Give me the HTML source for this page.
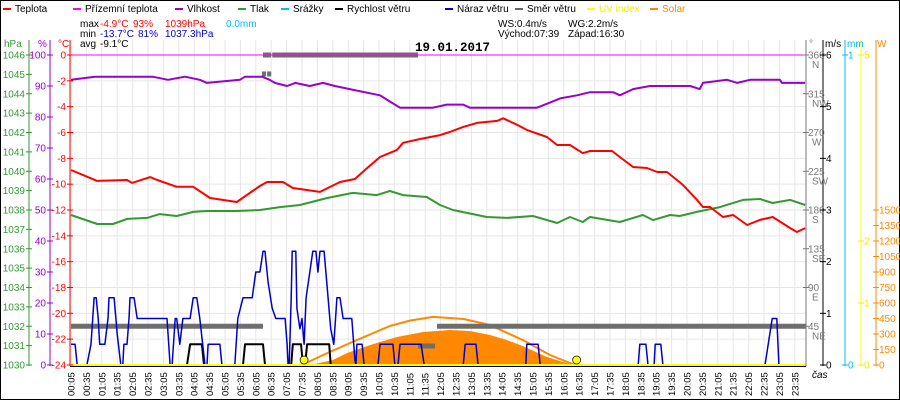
<!DOCTYPE html>
<html><head><meta charset="utf-8">
<style>
html,body{margin:0;padding:0;background:#fff;}
svg{display:block;font-family:"Liberation Sans",sans-serif;font-size:10px;}
</style></head>
<body>
<svg id="chart" width="900" height="400" viewBox="0 0 900 400" xmlns="http://www.w3.org/2000/svg">
<rect x="0.5" y="0.5" width="899" height="399" fill="#fff" stroke="#000"/>
<g id="grid"></g>
<g id="series"></g>
<g id="axes"></g>
<g id="legend"></g>
<g font-size="10">
<text x="80" y="27">max</text><text x="100" y="27" fill="#f00">-4.9°C</text><text x="133" y="27" fill="#f00">93%</text><text x="165" y="27" fill="#f00">1039hPa</text><text x="226" y="27" fill="#0bf">0.0mm</text>
<text x="80" y="37">min</text><text x="100" y="37" fill="#00c">-13.7°C</text><text x="138" y="37" fill="#00c">81%</text><text x="165" y="37" fill="#00c">1037.3hPa</text>
<text x="80" y="47">avg</text><text x="100" y="47">-9.1°C</text>
<text x="498" y="27">WS:0.4m/s</text><text x="568" y="27">WG:2.2m/s</text>
<text x="498" y="37">Východ:07:39</text><text x="568" y="37">Západ:16:30</text>
</g>
<text x="415" y="51" font-family="Liberation Mono, monospace" font-weight="bold" font-size="12.5">19.01.2017</text>
</svg>
<script>
// ---- data (time in minutes of day) ----
const tempTimes=[5,56,114,124,159,173,211,243,276,328,373,387,418,437,490,529,558,582,607,640,652,685,724,743,769,796,835,847,874,893,932,952,977,1002,1016,1059,1074,1100,1127,1147,1166,1197,1224,1236,1250,1275,1295,1322,1347,1372,1406,1419,1435];
const tempValues=[-8.9,-9.75,-9.68,-9.9,-9.45,-9.68,-10.2,-10.2,-11.07,-11.38,-10.14,-9.83,-9.83,-10.3,-10.6,-9.83,-9.6,-8.75,-7.9,-7.35,-6.8,-6.5,-6.2,-5.96,-5.57,-5.26,-5.1,-4.9,-5.4,-5.8,-6.35,-6.97,-6.97,-7.6,-7.43,-7.43,-7.9,-8.67,-8.75,-9.06,-9.06,-10.06,-11.2,-11.77,-11.77,-12.54,-12.39,-13.16,-12.77,-12.54,-13.4,-13.7,-13.4];
const humTimes=[5,52,164,194,227,256,270,334,344,377,392,402,426,442,470,496,519,548,607,626,646,710,737,769,782,913,958,991,1016,1061,1074,1100,1133,1211,1230,1236,1283,1303,1328,1386,1390,1435];
const humValues=[92,93,93,92,93,92,91,92,93,93,92,91,90,91,90,91,90,89,87,85,83,83,84,84,83,83,86,87,88,88,87,89,90,90,89,91,92,91,92,92,91,91];
const presTimes=[5,56,87,114,153,178,211,243,270,328,373,412,451,504,554,601,626,652,698,724,749,815,854,905,952,977,1002,1016,1074,1119,1139,1172,1191,1224,1269,1314,1347,1372,1406,1435];
const presValues=[1037.74,1037.28,1037.28,1037.54,1037.59,1037.79,1037.69,1037.9,1037.95,1037.95,1038.0,1038.15,1038.26,1038.62,1038.88,1038.77,1038.98,1038.77,1038.67,1038.26,1038.0,1037.64,1037.59,1037.69,1037.33,1037.64,1037.38,1037.64,1037.38,1037.74,1037.48,1037.74,1037.69,1037.9,1038.15,1038.52,1038.57,1038.36,1038.52,1038.26];
const gustTimes=[5,13,17,36,44,50,54,58,61,71,77,79,89,95,102,106,108,114,118,120,128,134,192,198,202,208,211,217,223,237,243,250,256,266,270,272,295,299,324,330,340,358,365,373,379,383,389,397,404,422,426,428,430,434,436,443,445,451,455,459,463,476,482,486,490,498,504,511,517,521,523,529,535,552,558,560,562,572,576,603,607,632,636,642,646,687,693,769,773,794,798,891,893,915,919,1110,1113,1125,1129,1141,1143,1154,1158,1357,1371,1380,1384,1437];
const gustValues=[0.4,0.4,0,0,0.4,1.3,1.3,0.9,0.4,0.4,0.9,1.3,1.3,0.6,0,0,0.4,0.4,0.9,1.3,1.3,0.9,0.9,0,0,0.9,0.9,0.4,0.9,0.9,1.3,1.3,0.9,0,0,0.4,0.4,0,0,0.9,1.3,1.3,1.8,1.8,2.2,2.2,1.6,1.1,0.9,0.9,0.4,0,0,1.3,2.2,2.2,1.1,0.7,0.9,0.4,1.3,2.2,2.2,1.8,2.2,2.2,1.5,0.7,0.4,1.0,1.3,1.3,0.9,0.9,0.1,0,0.4,0.4,0,0,0.4,0.4,0,0,0.4,0.4,0,0,0.4,0.4,0,0,0.4,0.4,0,0,0.4,0.4,0,0,0.4,0.4,0,0,0.9,0.9,0,0];
const windTimes=[5,231,237,260,264,340,344,379,383,434,437,453,457,461,465,508,511,1437];
const windValues=[0,0,0.4,0.4,0,0,0.4,0.4,0,0,0.4,0.4,0,0,0.4,0.4,0,0];
const solarTimes=[471,515,543,582,607,640,691,743,782,821,854,885,932,963,987];
const solarValues=[0,48,116,184,223,271,319,339,329,290,242,184,77,29,0];
const theoTimes=[455,496,562,626,665,710,770,821,885,938,987];
const theoValues=[0,97,242,377,430,465,445,387,242,97,0];
const dirStart=[5,377,387,379,397,681,718];
const dirEnd=[379,385,395,395,681,714,1437];
const dirValues=[45,338,338,360,360,22,45];
const sunTimes=[459,990];
const hpaTicks=[1046,1045,1044,1043,1042,1041,1040,1039,1038,1037,1036,1035,1034,1033,1032,1031,1030];
const humTicks=[100,90,80,70,60,50,40,30,20,10,0];
const tempTicks=[0,-2,-4,-6,-8,-10,-12,-14,-16,-18,-20,-22,-24];
const dirTicks=[360,315,270,225,180,135,90,45];
const dirNames=['N','NW','W','SW','S','SE','E','NE'];
const msTicks=[6,5,4,3,2,1,0];
const uvTicks=[5,2,1,0];
const wTicks=[1500,1350,1200,1050,900,750,600,450,300,150,0];
const legendNames=['Teplota','Přízemní teplota','Vlhkost','Tlak','Srážky','Rychlost větru','Náraz větru','Směr větru','UV index','Solar'];
const legendColors=['#f00','#f0f','#90c','#393','#0bf','#000','#00c','#666','#ff0','#f80'];

// ---- scales ----
const X0=71,PX=15.4/30,YT=55,YB=365;
const xT=m=>X0+(m-5)*PX;
const yTemp=t=>YT-t*(YB-YT)/24;
const yHum=h=>YB-h*(YB-YT)/100;
const yPres=p=>YT+(1046-p)*(YB-YT)/16;
const yMs=v=>YB-v*(YB-YT)/6;
const yDir=d=>YB-d*(YB-YT)/360;
const ySol=w=>YB-w*155/1500;
const yUV=u=>YB-u*62;
const NS='http://www.w3.org/2000/svg';
function mk(tag,attrs,parent,txt){const e=document.createElementNS(NS,tag);for(const k in attrs)e.setAttribute(k,attrs[k]);if(txt!==undefined)e.textContent=txt;parent.appendChild(e);return e;}
const grid=document.getElementById('grid'),ser=document.getElementById('series'),axes=document.getElementById('axes'),leg=document.getElementById('legend');

// grid
for(let i=0;i<48;i++){const m=5+i*30,x=xT(m);
 const g=mk('line',{x1:x,y1:YT-15,x2:x,y2:YB,stroke:'#e6e6e6','stroke-width':1},grid);
 
 
 const hh=String(Math.floor(m/60)).padStart(2,'0'),mm=String(m%60).padStart(2,'0');
 const t=mk('text',{transform:`translate(${x+3.5},396) rotate(-90)`,'font-size':9.5},axes,hh+':'+mm);
 
 
}
tempTicks.forEach(v=>{const y=yTemp(v);
 const g=mk('line',{x1:70,y1:y,x2:806,y2:y,stroke:'#e6e6e6'},grid);
 
 
});

function poly(ts,vs,yf,color,w,name){const pts=ts.map((t,i)=>xT(t).toFixed(1)+','+yf(vs[i]).toFixed(1)).join(' ');
 const p=mk('polyline',{points:pts,fill:'none',stroke:color,'stroke-width':w,'stroke-linejoin':'round'},ser);
 
 
 return p;}

// solar fill
{const pts=solarTimes.map((t,i)=>xT(t).toFixed(1)+','+ySol(solarValues[i]).toFixed(1));
 const p=mk('polygon',{points:pts.join(' ')+' '+xT(solarTimes[solarTimes.length-1])+','+YB+' '+xT(solarTimes[0])+','+YB,fill:'#f80'},ser);
 
 }
poly(theoTimes,theoValues,ySol,'#f80',2,'solar-theoretical-line');
// wind direction
dirValues.forEach((d,i)=>{const l=mk('line',{x1:xT(dirStart[i]),y1:yDir(d),x2:xT(dirEnd[i]),y2:yDir(d),stroke:'#6e6e6e','stroke-width':5},ser);
 
 });
// apparent temp line at 0
{const l=mk('line',{x1:70,y1:yTemp(0),x2:806,y2:yTemp(0),stroke:'#f0f','stroke-width':1},ser);
 
 }
poly(humTimes,humValues,yHum,'#90c',2,'humidity-line');
poly(presTimes,presValues,yPres,'#393',2,'pressure-line');
poly(tempTimes,tempValues,yTemp,'#f00',2,'temperature-line');
poly(windTimes,windValues,yMs,'#000',2,'wind-speed-line');
poly(gustTimes,gustValues,yMs,'#00c',1.5,'wind-gust-line');
{const l=mk('line',{x1:70,y1:YB,x2:806,y2:YB,stroke:'#ff0','stroke-width':2},ser);
 
 
 const b=mk('line',{x1:70,y1:YB+1.5,x2:806,y2:YB+1.5,stroke:'#000','stroke-width':1},ser);
 
 }
sunTimes.forEach(t=>{const c=mk('circle',{cx:xT(t),cy:YB-5,r:4,fill:'#ff0',stroke:'#000','stroke-width':0.7},ser);
 
 });

// axes
function vaxis(x,color,name){const l=mk('line',{x1:x,y1:40,x2:x,y2:YB+1,stroke:color,'stroke-width':1},axes);
 
 }
function tick(x,y,color,label,anchor,tx){mk('line',{x1:x-3,y1:y,x2:x+3,y2:y,stroke:color},axes);
 const t=mk('text',{x:tx,y:y+3.5,fill:color,'text-anchor':anchor},axes,label);
 
 }
vaxis(29,'#393','pressure-axis');vaxis(50,'#90c','humidity-axis');vaxis(70,'#f00','temperature-axis');
vaxis(806,'#777','direction-axis');vaxis(823,'#000','wind-axis');vaxis(845,'#0bf','rain-axis');vaxis(861,'#ff0','uv-axis');vaxis(876,'#f80','solar-axis');
hpaTicks.forEach(v=>tick(29,yPres(v),'#393',v,'end',25));
humTicks.forEach(v=>tick(50,yHum(v),'#90c',v,'end',46));
tempTicks.forEach(v=>tick(70,yTemp(v),'#f00',v,'end',66));
dirTicks.forEach((v,i)=>{const y=yDir(v);tick(806,y,'#777',v,'start',808);
 const t=mk('text',{x:812,y:y+13,fill:'#777'},axes,dirNames[i]);
 
 });
msTicks.forEach(v=>tick(823,yMs(v),'#000',v,'start',826));
tick(845,YT,'#0bf','1','start',848);tick(845,YB,'#0bf','0','start',848);
uvTicks.forEach(v=>tick(861,yUV(v),'#ee0',v,'start',864));
wTicks.forEach(v=>tick(876,ySol(v),'#f80',v,'start',879));
[['hPa',4,'#393'],['%',38,'#90c'],['°C',58,'#f00'],['°',809,'#777'],['m/s',825,'#000'],['mm',847,'#0bf'],['W',877,'#f80']].forEach(a=>{
 const t=mk('text',{x:a[1],y:47,fill:a[2]},axes,a[0]);
 
 });
{const t=mk('text',{x:812,y:378,'font-style':'italic'},axes,'čas');
 
 }

// legend
const legX=[3,73,175,238,281,335,445,515,587,650];
legendNames.forEach((n,i)=>{const g=mk('g',{},leg);
 
 
 mk('line',{x1:legX[i],y1:9,x2:legX[i]+8,y2:9,stroke:legendColors[i],'stroke-width':2},g);
 mk('text',{x:legX[i]+12,y:12,fill:(i==8?'#ee0':(i==9?'#f80':'#000'))},g,n);});
</script>
</body></html>
